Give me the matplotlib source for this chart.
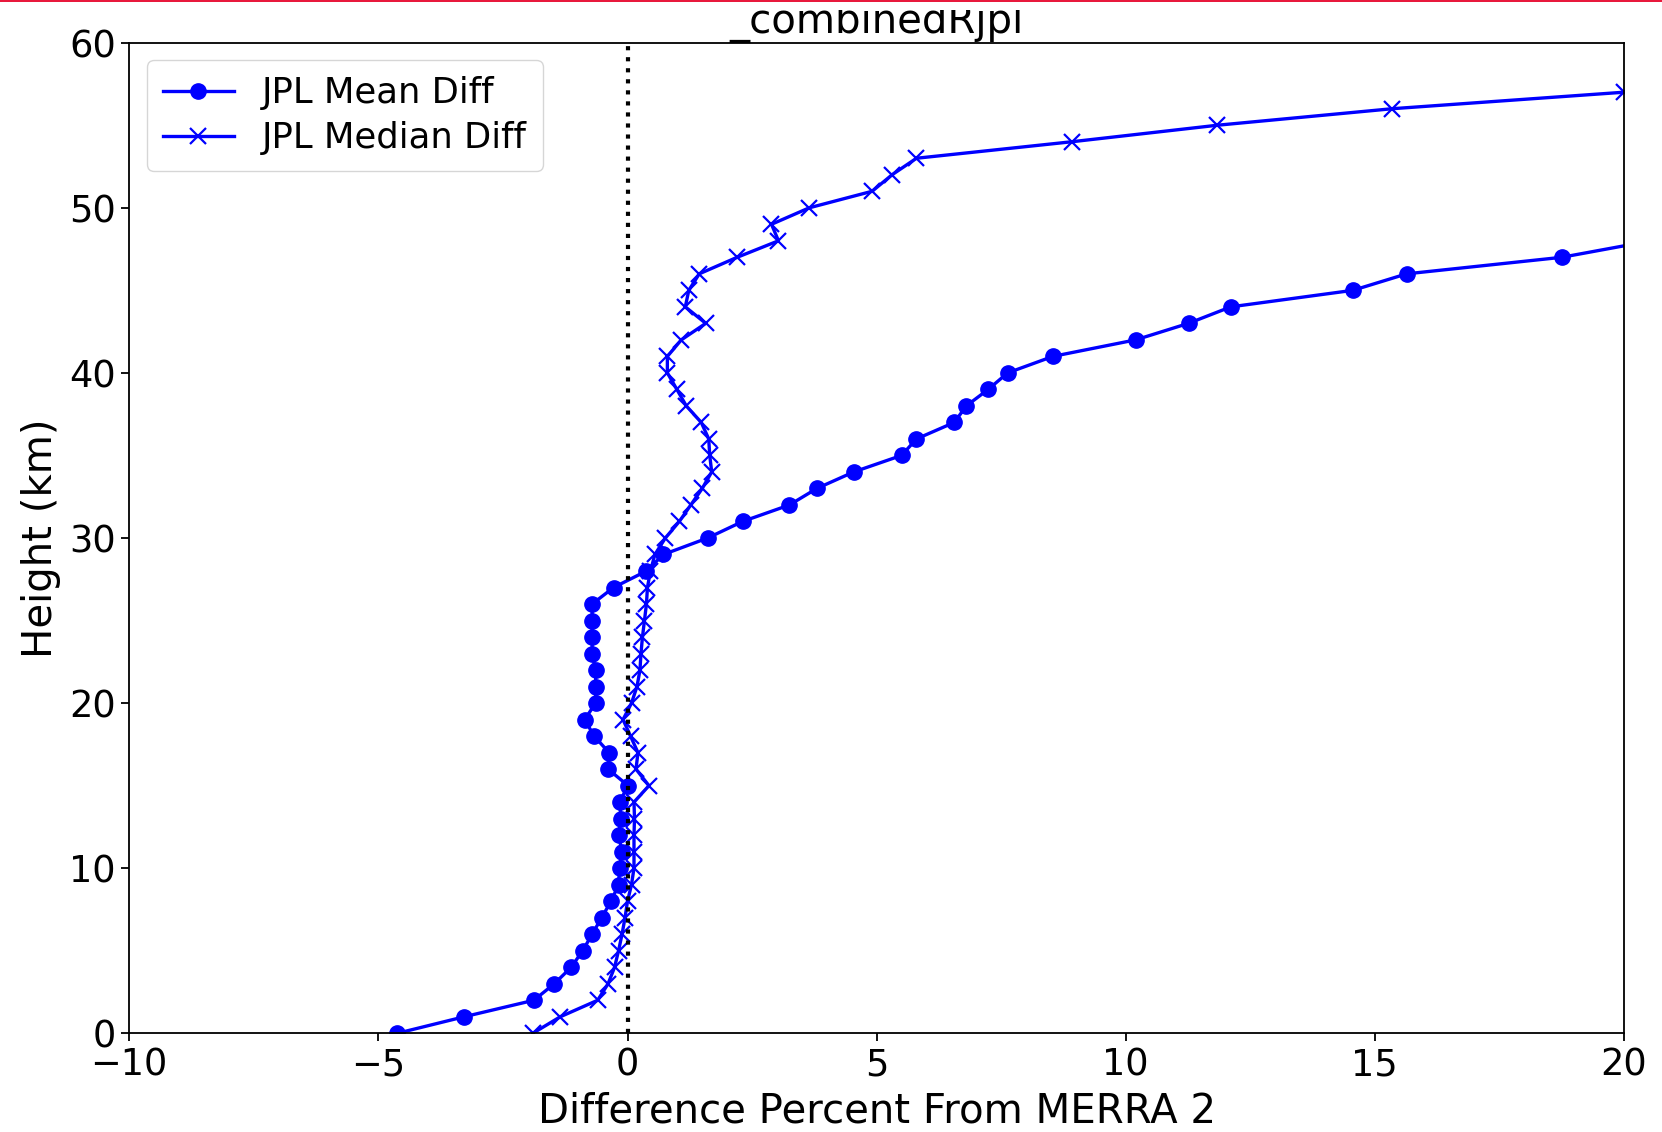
import numpy as np
import matplotlib
matplotlib.use("Agg")
import matplotlib.pyplot as plt
from matplotlib.patches import Rectangle

# --- profile data: percent difference vs height ---
heights_mean = list(range(0, 49))
mean_diff = [
    -4.62, -3.28, -1.88, -1.47, -1.13, -0.90, -0.71, -0.52, -0.33, -0.18,
    -0.16, -0.11, -0.18, -0.13, -0.16, 0.01, -0.39, -0.37, -0.67, -0.86,
    -0.64, -0.64, -0.64, -0.71, -0.71, -0.71, -0.71, -0.28, 0.38, 0.72,
    1.61, 2.31, 3.25, 3.80, 4.54, 5.50, 5.80, 6.56, 6.80, 7.24,
    7.63, 8.54, 10.20, 11.26, 12.11, 14.56, 15.64, 18.75, 20.55,
]

heights_median = list(range(0, 59))
median_diff = [
    -1.90, -1.35, -0.60, -0.39, -0.26, -0.18, -0.11, -0.05, 0.00, 0.08,
    0.13, 0.13, 0.13, 0.14, 0.13, 0.43, 0.17, 0.21, 0.06, -0.09,
    0.08, 0.19, 0.25, 0.27, 0.30, 0.34, 0.38, 0.40, 0.46, 0.55,
    0.76, 1.04, 1.27, 1.50, 1.69, 1.65, 1.63, 1.48, 1.18, 0.99,
    0.80, 0.80, 1.08, 1.57, 1.16, 1.23, 1.44, 2.20, 3.03, 2.89,
    3.65, 4.91, 5.31, 5.80, 8.92, 11.84, 15.35, 20.0, 26.0,
]

TICK_FS = 26.5
LABEL_FS = 29
LEGEND_FS = 25.5

fig = plt.figure(figsize=(16.62, 11.32), dpi=100)
ax = fig.add_axes([0.0778, 0.0872, 0.9771 - 0.0778, 0.9623 - 0.0872])

ax.plot(mean_diff, heights_mean, color="blue", marker="o", markersize=11,
        linewidth=2.4, label="JPL Mean Diff")
ax.plot(median_diff, heights_median, color="blue", marker="x", markersize=11,
        markeredgewidth=1.6, linewidth=2.4, label="JPL Median Diff")
ax.axvline(0, color="black", linestyle=":", linewidth=3.0)

ax.set_xlim(-10, 20)
ax.set_ylim(0, 60)
ax.set_xticks([-10, -5, 0, 5, 10, 15, 20])
ax.set_yticks([0, 10, 20, 30, 40, 50, 60])
ax.tick_params(labelsize=TICK_FS, length=6, width=1.3)
for s in ax.spines.values():
    s.set_linewidth(1.3)

ax.set_xlabel("Difference Percent From MERRA 2", fontsize=LABEL_FS, labelpad=6)
ax.set_ylabel("Height (km)", fontsize=LABEL_FS, labelpad=6)
ax.set_title("_combinedRjpl", fontsize=LABEL_FS, pad=4)

ax.legend(loc="upper left", fontsize=LEGEND_FS, handlelength=2.0,
          borderpad=0.45, labelspacing=0.3)

# white band and red rule along the top edge
fig.add_artist(Rectangle((0, 1 - 10 / 1132), 1, 10 / 1132, transform=fig.transFigure,
                         facecolor="white", edgecolor="none", zorder=10))
fig.add_artist(Rectangle((0, 1 - 2 / 1132), 1, 2 / 1132, transform=fig.transFigure,
                         facecolor="#e8193c", edgecolor="none", zorder=11))

fig.savefig("out.png", dpi=100)
